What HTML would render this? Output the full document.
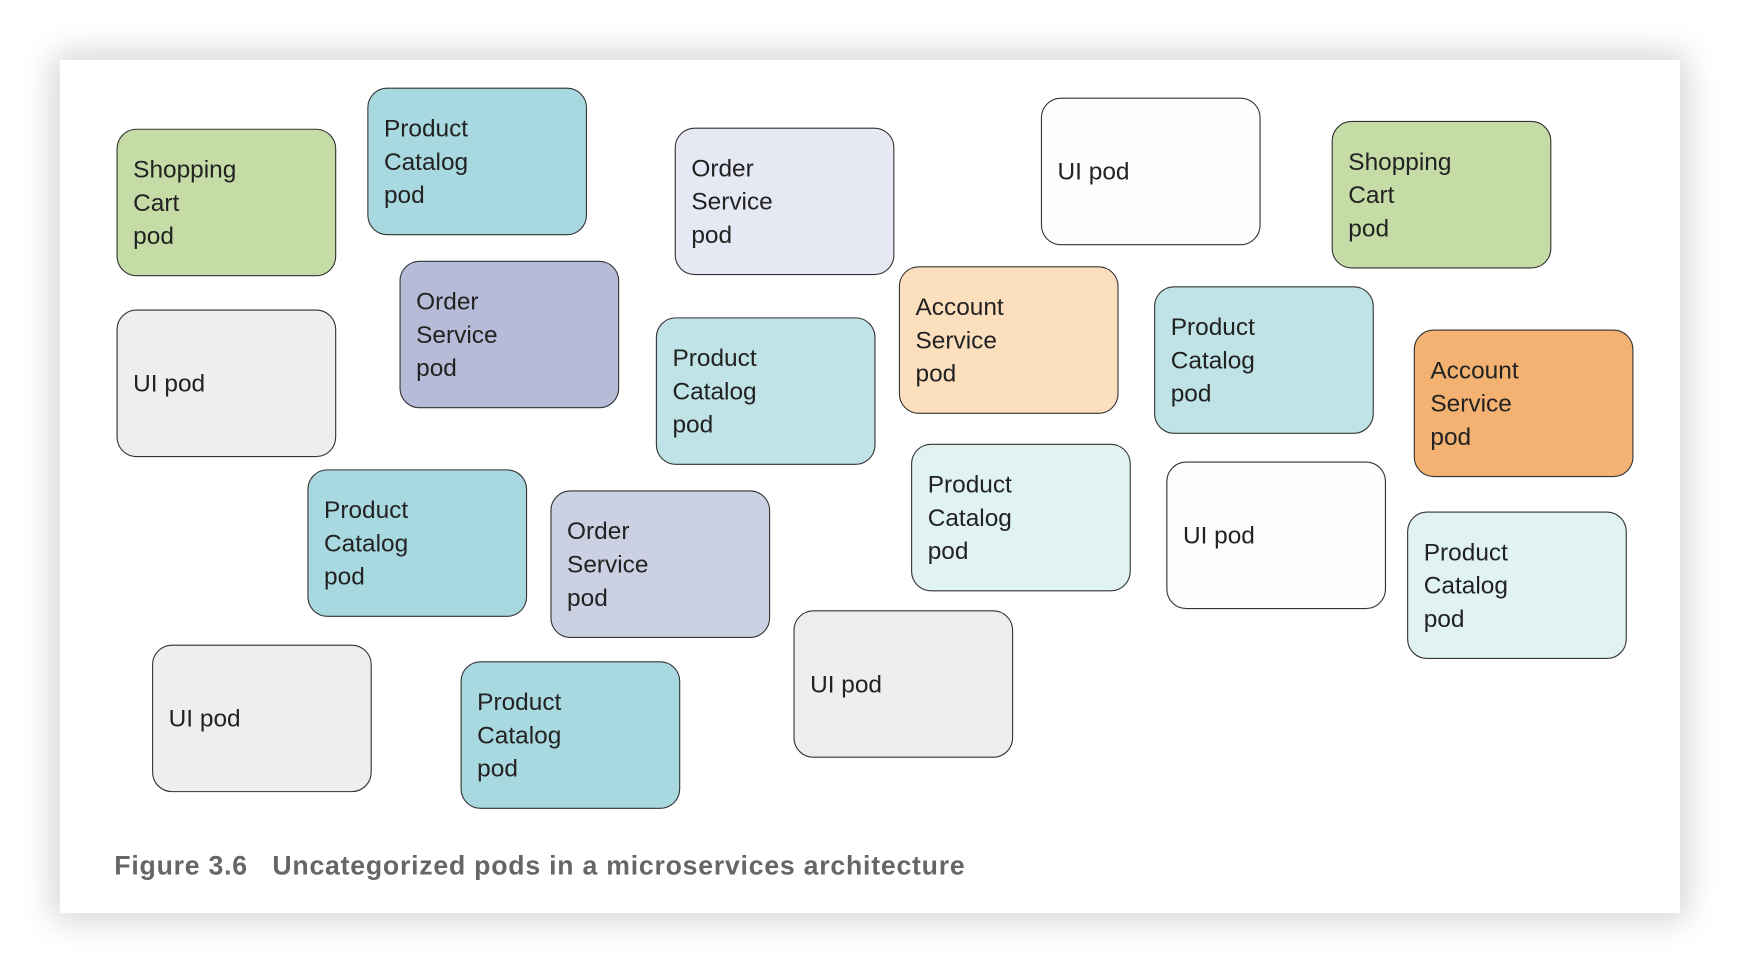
<!DOCTYPE html>
<html><head><meta charset="utf-8"><style>
html,body{margin:0;padding:0;background:#fff;width:1740px;height:973px;overflow:hidden}
#w{position:absolute;left:0;top:0;width:1568px;height:877px;transform:scale(1.1097,1.1095);transform-origin:0 0;font-family:"Liberation Sans",sans-serif}
#panel{position:absolute;left:54px;top:54px;width:1460px;height:769px;background:#fff;box-shadow:0 0 28px 6px rgba(0,0,0,0.18)}
.c{position:absolute;height:131px;border:1.8px solid #333;border-radius:18px;box-sizing:content-box;display:flex;align-items:center;padding-left:14px;width:182px;font-size:22px;line-height:30px;color:#222}
.cap{position:absolute;left:103px;top:767px;font-size:24px;letter-spacing:0.7px;font-weight:bold;color:#666;white-space:nowrap}
</style></head><body><div id="w">
<div id="panel"></div>
<div class="c" style="left:105px;top:116px;background:#c5dca6">Shopping<br>Cart<br>pod</div>
<div class="c" style="left:331px;top:79px;background:#a9d9e0">Product<br>Catalog<br>pod</div>
<div class="c" style="left:608px;top:115px;background:#e6e9f3">Order<br>Service<br>pod</div>
<div class="c" style="left:938px;top:88px;background:#fdfdfb">UI pod</div>
<div class="c" style="left:1200px;top:109px;background:#c5dca6">Shopping<br>Cart<br>pod</div>
<div class="c" style="left:105px;top:279px;background:#efedee">UI pod</div>
<div class="c" style="left:360px;top:235px;background:#b6bcd8">Order<br>Service<br>pod</div>
<div class="c" style="left:591px;top:286px;background:#bfe3e6">Product<br>Catalog<br>pod</div>
<div class="c" style="left:810px;top:240px;background:#fcdfbd">Account<br>Service<br>pod</div>
<div class="c" style="left:1040px;top:258px;background:#bfe3e6">Product<br>Catalog<br>pod</div>
<div class="c" style="left:1274px;top:297px;background:#f3b272">Account<br>Service<br>pod</div>
<div class="c" style="left:277px;top:423px;background:#a9d9e0">Product<br>Catalog<br>pod</div>
<div class="c" style="left:496px;top:442px;background:#cbd0e2">Order<br>Service<br>pod</div>
<div class="c" style="left:821px;top:400px;background:#e0f2f2">Product<br>Catalog<br>pod</div>
<div class="c" style="left:1051px;top:416px;background:#fdfdfb">UI pod</div>
<div class="c" style="left:1268px;top:461px;background:#e0f2f2">Product<br>Catalog<br>pod</div>
<div class="c" style="left:137px;top:581px;background:#efedee">UI pod</div>
<div class="c" style="left:415px;top:596px;background:#a9d9e0">Product<br>Catalog<br>pod</div>
<div class="c" style="left:715px;top:550px;background:#efedee">UI pod</div>
<div class="cap">Figure 3.6&nbsp;&nbsp;&nbsp;Uncategorized pods in a microservices architecture</div>
</div></body></html>
